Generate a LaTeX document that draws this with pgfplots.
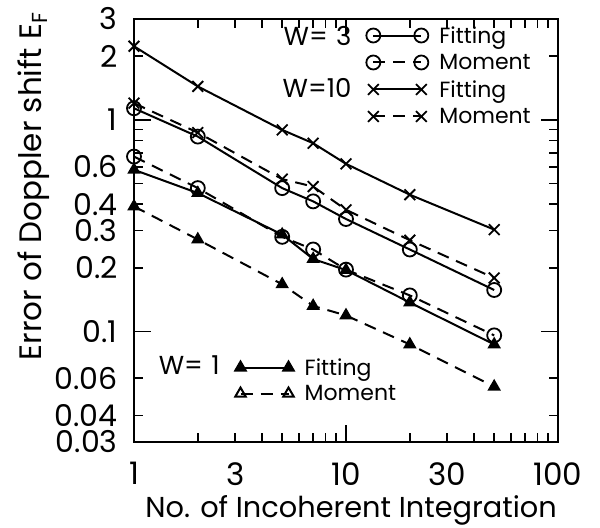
\documentclass[border=0pt]{standalone}
\usepackage{pgfplots}
\pgfplotsset{compat=1.18}
\usepackage{fontspec}
\setmainfont{Poppins}

\begin{document}
\begin{tikzpicture}
\begin{axis}[
  name=main,
  xmode=log, ymode=log,
  scale only axis, width=212pt, height=211.5pt,
  xmin=1, xmax=100, ymin=0.03, ymax=3,
  axis line style={line width=1.1pt},
  tick style={line width=0.9pt, black},
  tick align=inside,
  major tick length=8.5pt, minor tick length=4.5pt,
  xtick={1,10,100}, xticklabels={1,10,100},
  extra x ticks={3,30}, extra x tick labels={3,30},
  extra x tick style={major tick length=4.5pt},
  ytick={0.1,1}, yticklabels={0.1,1},
  extra y ticks={0.03,0.04,0.06,0.2,0.3,0.4,0.6,2,3},
  extra y tick labels={0.03,0.04,0.06,0.2,0.3,0.4,0.6,2,3},
  extra y tick style={major tick length=4.5pt},
  xticklabel style={font=\fontsize{15.5}{17}\selectfont, anchor=north, inner sep=0pt, yshift=-10pt},
  yticklabel style={font=\fontsize{15}{17}\selectfont, anchor=east, inner sep=0pt, xshift=-8pt},
  xlabel={No. of Incoherent Integration},
  ylabel={Error of Doppler shift E\textsubscript{F}},
  xlabel style={font=\fontsize{14.4}{16}\selectfont, at={(rel axis cs:0.512,0)}, anchor=center, yshift=-34pt},
  ylabel style={font=\fontsize{15.5}{17}\selectfont, at={(rel axis cs:0,0.605)}, anchor=center, yshift=50pt},
  every axis plot/.append style={line width=1pt, black, mark options={solid, line width=0.9pt}},
  legend image code/.code={\draw[#1] plot coordinates {(0pt,0pt) (24pt,0pt)};},
  legend style={at={(rel axis cs:0.547,0.99)}, anchor=north west, draw=none, fill=none,
    font=\fontsize{11}{13}\selectfont,
    inner sep=0pt, row sep=2pt, nodes={inner xsep=5.5pt, inner ysep=1.5pt, text depth=0.5pt}},
  legend cell align=left,
]
% W = 3
\addplot[mark=o, mark size=3.5pt] coordinates {(1,1.135) (2,0.834) (5,0.476) (7,0.412) (10,0.340) (20,0.244) (50,0.157)};
\addlegendentry{Fitting}
\addplot[dash pattern=on 6pt off 4pt, mark=o, mark size=3.5pt] coordinates {(1,0.671) (2,0.476) (5,0.280) (7,0.244) (10,0.196) (20,0.148) (50,0.0958)};
\addlegendentry{Moment}
% W = 10
\addplot[mark=x, mark size=3.8pt] coordinates {(1,2.23) (2,1.44) (5,0.897) (7,0.776) (10,0.620) (20,0.443) (50,0.303)};
\addlegendentry{Fitting}
\addplot[dash pattern=on 6pt off 4pt, mark=x, mark size=3.8pt] coordinates {(1,1.20) (2,0.871) (5,0.525) (7,0.484) (10,0.376) (20,0.270) (50,0.179)};
\addlegendentry{Moment}
% W = 1
\addplot[mark=triangle*, mark size=3pt, forget plot] coordinates {(1,0.581) (2,0.451) (5,0.287) (7,0.220) (10,0.195) (20,0.137) (50,0.0868)};
\addplot[dash pattern=on 6pt off 4pt, mark=triangle*, mark size=3pt, forget plot] coordinates {(1,0.390) (2,0.272) (5,0.167) (7,0.132) (10,0.119) (20,0.0868) (50,0.0548)};

\node[anchor=east, inner sep=0pt, font=\fontsize{13}{15}\selectfont] at (rel axis cs:0.514,0.96) {W=\phantom{1}3};
\node[anchor=east, inner sep=0pt, font=\fontsize{13}{15}\selectfont] at (rel axis cs:0.514,0.837) {W=10};
\node[anchor=east, inner sep=0pt, font=\fontsize{13}{15}\selectfont] at (rel axis cs:0.203,0.182) {W=\phantom{1}1};
\end{axis}
\begin{axis}[
  scale only axis, width=212pt, height=211.5pt,
  hide axis, xmin=0, xmax=1, ymin=0, ymax=1,
  legend image code/.code={\draw[#1] plot coordinates {(0pt,0pt) (24pt,0pt)};},
  legend style={at={(rel axis cs:0.238,0.205)}, anchor=north west, draw=none, fill=none,
    font=\fontsize{11}{13}\selectfont,
    inner sep=0pt, row sep=1.5pt, nodes={inner xsep=5.5pt, inner ysep=1.5pt, text depth=0.5pt}},
  legend cell align=left,
]
\addlegendimage{black, line width=1pt, mark=triangle*, mark size=3pt, mark options={solid}}
\addlegendentry{Fitting}
\addlegendimage{black, line width=1pt, dash pattern=on 6pt off 4pt, mark=triangle, mark size=3pt, mark options={solid}}
\addlegendentry{Moment}
\end{axis}
\pgfresetboundingbox
\path ([xshift=-67pt,yshift=-42.5pt]main.south west) rectangle ([xshift=21pt,yshift=9.5pt]main.north east);
\end{tikzpicture}
\end{document}
